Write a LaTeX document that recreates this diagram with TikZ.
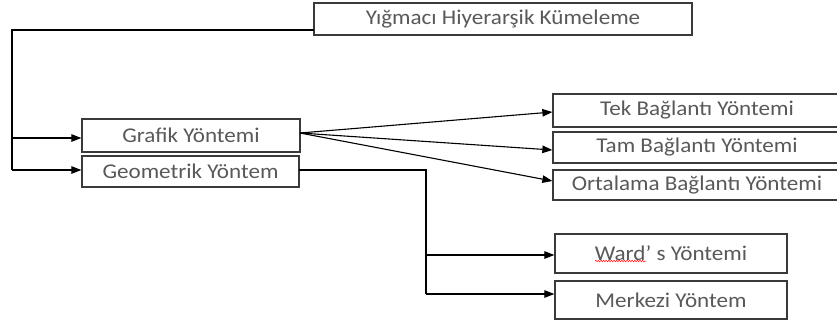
\documentclass[tikz,border=0pt]{standalone}
\usepackage{fontspec}
\setmainfont{Carlito}
\newfontfamily\boxfont[FakeStretch=1.1]{Carlito}
\usetikzlibrary{arrows.meta,decorations.pathmorphing}
\definecolor{boxc}{HTML}{3A3A3A}
\definecolor{txt}{HTML}{595959}
\begin{document}
\begin{tikzpicture}[x=1pt,y=-1pt,
  box/.style={draw=boxc, line width=1.3pt, text=txt, font=\boxfont\fontsize{21}{24}\selectfont, inner sep=0pt},
  conn/.style={line width=1.1pt, -{Triangle[length=10pt,width=7.5pt]}},
  plain/.style={line width=1.1pt}]
\clip (0,0) rectangle (837,322);
\fill[white] (0,0) rectangle (837,322);
\node[box, minimum width=378pt, minimum height=32pt] (top) at (503,19) {Yığmacı Hiyerarşik Kümeleme};
\node[box, minimum width=218pt, minimum height=33pt] (graf) at (191,135.5) {Grafik Yöntemi};
\node[box, minimum width=217pt, minimum height=31pt] (geo) at (190.5,171.5) {Geometrik Yöntem};
\node[box, minimum width=288pt, minimum height=33pt] (tek) at (697,110.5) {Tek Bağlantı Yöntemi};
\node[box, minimum width=288pt, minimum height=31pt] (tam) at (697,147.5) {Tam Bağlantı Yöntemi};
\node[box, minimum width=288pt, minimum height=30pt] (ort) at (697,185) {Ortalama Bağlantı Yöntemi};
\node[box, minimum width=232pt, minimum height=39pt] (ward) at (671,253.5) {Ward’ s Yöntemi};
\node[box, minimum width=232pt, minimum height=38pt] (merk) at (671,300) {Merkezi Yöntem};
% left connector
\coordinate (a0) at (314,30);
\coordinate (a1) at (12,30);
\coordinate (a2) at (12,138);
\coordinate (a3) at (12,170);
\draw[plain] (a0) -- (a1) -- (a3);
\draw[conn] (a2) -- (graf.west |- a2);
\draw[conn] (a3) -- (geo.west |- a3);
% grafik fan
\coordinate (g0) at (300,133);
\draw[conn] (g0) -- (tek.west |- 0,112);
\draw[conn] (g0) -- (tam.west |- 0,150);
\draw[conn] (g0) -- (ort.west |- 0,181);
% geometrik
\coordinate (b0) at (299,170);
\coordinate (b1) at (426,170);
\coordinate (b2) at (426,255);
\coordinate (b3) at (426,294);
\draw[line width=1.5pt] (b0) -- (b1) -- (b3);
\draw[conn] (b2) -- (ward.west |- b2);
\draw[conn] (b3) -- (merk.west |- b3);
% spell-check underline
\draw[red, line width=0.5pt, decorate, decoration={snake, amplitude=0.7pt, segment length=2.6pt}] (595,261) -- (646,261);
\end{tikzpicture}
\end{document}
